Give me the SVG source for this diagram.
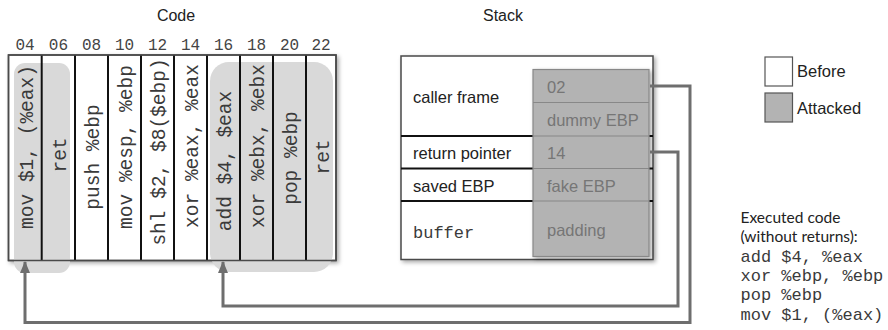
<svg xmlns="http://www.w3.org/2000/svg" width="888" height="330" viewBox="0 0 888 330">
  <style>
    .title { font-family: "Liberation Sans", Arial, sans-serif; font-size: 16px; fill: #222; }
    .sans { font-family: "Liberation Sans", Arial, sans-serif; font-size: 16.5px; fill: #222; }
    .cell { font-family: "Liberation Sans", Arial, sans-serif; font-size: 16.5px; fill: #767676; }
    .mono { font-family: "Liberation Mono", "Courier New", monospace; font-size: 17px; fill: #3a3a3a; }
    .addr { font-family: "Liberation Mono", "Courier New", monospace; font-size: 16px; fill: #444; text-anchor: middle; }
    .op { font-family: "Liberation Mono", "Courier New", monospace; font-size: 19.5px; fill: #3a3a3a; text-anchor: middle; }
    .note { font-family: Lato, "Open Sans", sans-serif; font-size: 15.5px; fill: #222; }
    .frame { fill: #fff; stroke: #4a4a4a; stroke-width: 1.5; }
    .div { stroke: #111; stroke-width: 2; }
    .hl { fill: #d9d9d9; }
    .atk { fill: #b3b3b3; stroke: #888; stroke-width: 1.2; }
    .sep { stroke: #888; stroke-width: 1.2; }
    .link { fill: none; stroke: #6e6e6e; stroke-width: 3; }
  </style>
  <defs>
    <filter id="shadow" x="-10%" y="-10%" width="130%" height="130%">
      <feDropShadow dx="2" dy="2" stdDeviation="2" flood-color="#000" flood-opacity="0.35"/>
    </filter>
    <marker id="head" markerWidth="12" markerHeight="10" refX="11" refY="5" orient="auto" markerUnits="userSpaceOnUse" viewBox="0 0 12 10">
      <path d="M0,0 L12,5 L0,10 Z" fill="#6e6e6e"/>
    </marker>
  </defs>

  <text class="title" x="176" y="21" text-anchor="middle">Code</text>
  <text class="title" x="503" y="21" text-anchor="middle">Stack</text>

  <!-- code memory, one column per instruction address -->
  <g id="code">
    <rect class="frame" x="8.5" y="55" width="327.5" height="205.5" filter="url(#shadow)"/>
    <rect class="hl" x="14" y="63" width="56" height="210" rx="11"/>
    <rect class="hl" x="210" y="62" width="123" height="210" rx="19"/>
    <g class="div">
      <line x1="41.7" y1="55" x2="41.7" y2="260.5"/>
      <line x1="75" y1="55" x2="75" y2="260.5"/>
      <line x1="108" y1="55" x2="108" y2="260.5"/>
      <line x1="141" y1="55" x2="141" y2="260.5"/>
      <line x1="174" y1="55" x2="174" y2="260.5"/>
      <line x1="207" y1="55" x2="207" y2="260.5"/>
      <line x1="240" y1="55" x2="240" y2="260.5"/>
      <line x1="273" y1="55" x2="273" y2="260.5"/>
      <line x1="306" y1="55" x2="306" y2="260.5"/>
    </g>
    <rect x="8.5" y="55" width="327.5" height="205.5" fill="none" stroke="#4a4a4a" stroke-width="1.5"/>
    <text class="addr" x="25" y="50">04</text>
    <text class="addr" x="58.4" y="50">06</text>
    <text class="addr" x="91.5" y="50">08</text>
    <text class="addr" x="124.5" y="50">10</text>
    <text class="addr" x="157.5" y="50">12</text>
    <text class="addr" x="190.5" y="50">14</text>
    <text class="addr" x="223.5" y="50">16</text>
    <text class="addr" x="256.5" y="50">18</text>
    <text class="addr" x="289.5" y="50">20</text>
    <text class="addr" x="321" y="50">22</text>
    <text class="op" transform="translate(32.5,147) rotate(-90)">mov $1, (%eax)</text>
    <text class="op" transform="translate(66,155) rotate(-90)">ret</text>
    <text class="op" transform="translate(99,157) rotate(-90)">push %ebp</text>
    <text class="op" transform="translate(132,147) rotate(-90)">mov %esp, %ebp</text>
    <text class="op" transform="translate(165,152) rotate(-90)">shl $2, $8($ebp)</text>
    <text class="op" transform="translate(198,146) rotate(-90)">xor %eax, %eax</text>
    <text class="op" transform="translate(231,161) rotate(-90)">add $4, $eax</text>
    <text class="op" transform="translate(264,146) rotate(-90)">xor %ebx, %ebx</text>
    <text class="op" transform="translate(297,158) rotate(-90)">pop %ebp</text>
    <text class="op" transform="translate(328.5,157) rotate(-90)">ret</text>
  </g>

  <!-- stack frame with the overwritten slots -->
  <g id="stack">
    <rect class="frame" x="401" y="56" width="252" height="203.5" filter="url(#shadow)"/>
    <g class="div">
      <line x1="401" y1="136" x2="653" y2="136"/>
      <line x1="401" y1="168.5" x2="653" y2="168.5"/>
      <line x1="401" y1="201" x2="653" y2="201"/>
    </g>
    <rect class="atk" x="533" y="69.5" width="116" height="187" filter="url(#shadow)"/>
    <g class="sep">
      <line x1="533" y1="102.5" x2="649" y2="102.5"/>
      <line x1="533" y1="136" x2="649" y2="136"/>
      <line x1="533" y1="168.5" x2="649" y2="168.5"/>
      <line x1="533" y1="201" x2="649" y2="201"/>
    </g>
    <text class="sans" x="413" y="103">caller frame</text>
    <text class="sans" x="413" y="159">return pointer</text>
    <text class="sans" x="413" y="191.5">saved EBP</text>
    <text class="mono" x="413" y="238">buffer</text>
    <text class="cell" x="547" y="92.5">02</text>
    <text class="cell" x="547" y="126">dummy EBP</text>
    <text class="cell" x="547" y="159">14</text>
    <text class="cell" x="547" y="191.5">fake EBP</text>
    <text class="cell" x="547" y="235.5">padding</text>
  </g>

  <g id="legend">
    <rect x="765" y="57" width="27.5" height="29" fill="#fff" stroke="#555" stroke-width="1.2"/>
    <text class="sans" x="797" y="77">Before</text>
    <rect x="765" y="93" width="27.5" height="29" fill="#b3b3b3" stroke="#555" stroke-width="1.2"/>
    <text class="sans" x="797" y="113.5">Attacked</text>
  </g>

  <g id="executed">
    <text class="note" x="740.5" y="223">Executed code</text>
    <text class="note" x="740.5" y="242">(without returns):</text>
    <text class="mono" x="740.5" y="262">add $4, %eax</text>
    <text class="mono" x="740.5" y="281">xor %ebp, %ebp</text>
    <text class="mono" x="740.5" y="300">pop %ebp</text>
    <text class="mono" x="740.5" y="319.5">mov $1, (%eax)</text>
  </g>

  <!-- return addresses pointing back into the code -->
  <g id="connectors">
    <path class="link" d="M650,86 H690 V322.5 H25 V262" marker-end="url(#head)"/>
    <path class="link" d="M650,152 H678 V306 H223 V262" marker-end="url(#head)"/>
  </g>
</svg>
